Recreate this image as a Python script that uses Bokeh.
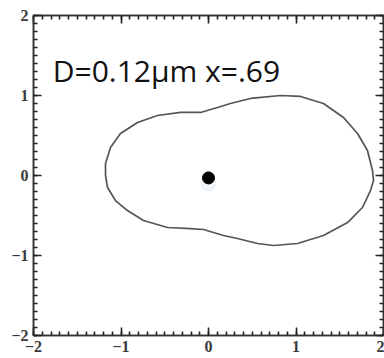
from bokeh.plotting import figure
from bokeh.models import Range1d, LinearAxis, SingleIntervalTicker, ColumnDataSource
from bokeh.core.properties import value
from bokeh.embed import file_html
from bokeh.resources import INLINE

# Closed contour (x, y) traced around the particle
contour_x = [-1.177, -1.154, -1.063, -0.926, -0.743, -0.469, -0.206, -0.057, 0.171, 0.331,
             0.560, 0.743, 1.017, 1.314, 1.589, 1.760, 1.851, 1.886, 1.874, 1.817,
             1.703, 1.543, 1.314, 1.051, 0.823, 0.480, 0.251, 0.103, -0.091, -0.320,
             -0.583, -0.811, -1.006, -1.120, -1.177]
contour_y = [0.000, -0.150, -0.313, -0.438, -0.563, -0.650, -0.663, -0.675, -0.750, -0.788,
             -0.850, -0.875, -0.850, -0.750, -0.588, -0.400, -0.188, -0.063, 0.063, 0.313,
             0.525, 0.725, 0.900, 0.988, 1.000, 0.963, 0.900, 0.850, 0.788, 0.788,
             0.750, 0.663, 0.525, 0.350, 0.150]

# Particle position
particle_x = [0.0]
particle_y = [-0.03]

# Annotation
label_text = ["D=0.12\u03bcm x=.69"]
label_x = [-1.78]
label_y = [1.31]

# Negative tick labels drawn with a true minus sign
minus_labels = {-2: "\u22122", -1: "\u22121"}

cx = contour_x + contour_x[:1]
cy = contour_y + contour_y[:1]

p = figure(width=384, height=358, output_backend="svg", toolbar_location=None,
           x_range=Range1d(-2, 2), y_range=Range1d(-2, 2),
           min_border_left=33, min_border_right=1, min_border_top=15, min_border_bottom=23)
p.grid.visible = False
p.background_fill_color = "white"
p.border_fill_color = "white"
p.outline_line_color = "#333333"
p.outline_line_width = 1.5


def style_axis(ax, show_labels):
    ax.ticker = SingleIntervalTicker(interval=1, num_minor_ticks=10)
    ax.axis_line_color = "#333333"
    ax.axis_line_width = 1.5
    ax.major_tick_in = 8
    ax.major_tick_out = 0
    ax.minor_tick_in = 4
    ax.minor_tick_out = 0
    ax.major_tick_line_color = "#222222"
    ax.minor_tick_line_color = "#222222"
    ax.major_tick_line_width = 1.6
    ax.minor_tick_line_width = 1.6
    if show_labels:
        ax.major_label_text_font = "Liberation Serif"
        ax.major_label_text_font_size = "16px"
        ax.major_label_text_font_style = "bold"
        ax.major_label_text_color = "#3a3a3a"
        ax.major_label_standoff = 5
        ax.major_label_overrides = minus_labels
    else:
        # mirrored ticks only, labels not drawn
        ax.major_label_standoff = 0
        ax.major_label_text_font_size = "1px"
        ax.major_label_text_color = None


style_axis(p.xaxis[0], True)
style_axis(p.yaxis[0], True)
top_axis = LinearAxis()
right_axis = LinearAxis()
style_axis(top_axis, False)
style_axis(right_axis, False)
p.add_layout(top_axis, "above")
p.add_layout(right_axis, "right")

p.line(cx, cy, line_color="#555555", line_width=1.7)

# faint halo below the particle
p.scatter(x=particle_x, y=[v - 0.07 for v in particle_y], size=15, color="#b5c9ea", alpha=0.18)
p.scatter(x=particle_x, y=particle_y, size=12, color="black")

src = ColumnDataSource(dict(x=label_x, y=label_y, t=label_text))
p.text(x="x", y="y", text="t", source=src, text_font=value("Open Sans"),
       text_font_size="30px", text_color="#111111", text_baseline="alphabetic")

open("out.html", "w").write(file_html(p, INLINE))
